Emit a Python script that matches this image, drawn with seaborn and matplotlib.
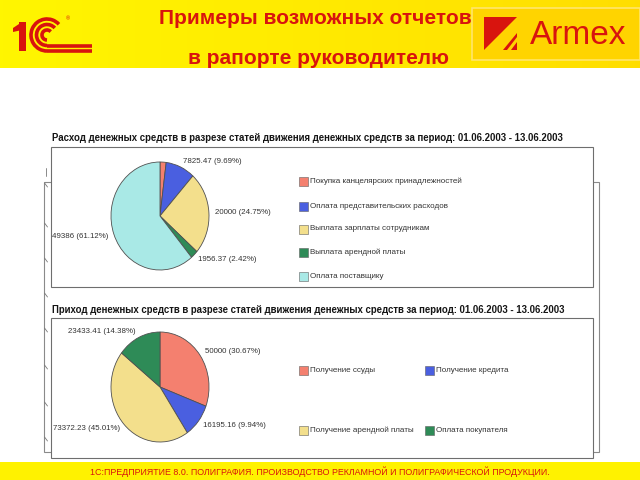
import numpy as np
import matplotlib
matplotlib.use("Agg")
import matplotlib.pyplot as plt
import seaborn as sns
from matplotlib.patches import Rectangle, Polygon, Arc

sns.set_theme(style="white")
plt.rcParams['font.family'] = ['Liberation Sans', 'DejaVu Sans']

# ---------------- data ----------------
header_line1 = "Примеры возможных отчетов"
header_line2 = "в рапорте руководителю"
footer_text = "1С:ПРЕДПРИЯТИЕ 8.0. ПОЛИГРАФИЯ. ПРОИЗВОДСТВО РЕКЛАМНОЙ И ПОЛИГРАФИЧЕСКОЙ ПРОДУКЦИИ."
brand_text = "Armex"

expense_title = ("Расход денежных средств в разрезе статей движения денежных средств "
                 "за период: 01.06.2003 - 13.06.2003")
expense_items = ["Покупка канцелярских принадлежностей",
                 "Оплата представительских расходов",
                 "Выплата зарплаты сотрудникам",
                 "Выплата арендной платы",
                 "Оплата поставщику"]
expense_values = [1629.16, 7825.47, 20000, 1956.37, 49386]
expense_show_label = [False, True, True, True, True]

income_title = ("Приход денежных средств в разрезе статей движения денежных средств "
                "за период: 01.06.2003 - 13.06.2003")
income_items = ["Получение ссуды", "Получение кредита",
                "Получение арендной платы", "Оплата покупателя"]
income_values = [50000, 16195.16, 73372.23, 23433.41]
income_show_label = [True, True, True, True]

expense_colors = ["#F4806F", "#4A5FE0", "#F3DF8C", "#2E8B57", "#A9E9E6"]
income_colors = ["#F4806F", "#4A5FE0", "#F3DF8C", "#2E8B57"]

# ---------------- figure ----------------
W, H = 640, 480
fig = plt.figure(figsize=(6.4, 4.8), dpi=100)
fig.patch.set_facecolor("white")
bg = fig.add_axes([0, 0, 1, 1])
bg.axis("off")

RED = "#D8140E"

# header gradient band
grad = np.linspace(0, 1, 256)
c0 = np.array([1.0, 0.965, 0.0])
c1 = np.array([1.0, 0.87, 0.0])
img = (c0[None, :] * (1 - grad[:, None]) + c1[None, :] * grad[:, None])[None, :, :]
bg.imshow(img, extent=(0, W, 68, 0), aspect="auto", zorder=0)
bg.add_patch(Rectangle((472, 8), 168, 52, fc="#FFD400", ec="#FFE56A", lw=1.2, zorder=1))

bg.text(315, 18, header_line1, ha="center", va="center", fontsize=15,
        fontweight="bold", color=RED, zorder=3)
bg.text(318, 58, header_line2, ha="center", va="center", fontsize=15,
        fontweight="bold", color=RED, zorder=3)

# 1C logo
bg.add_patch(Rectangle((19, 22), 7, 29, fc=RED, ec="none", zorder=3))
bg.add_patch(Polygon([(13, 28), (22, 22), (22, 30), (13, 32)], fc=RED, ec="none", zorder=3))
for r in (16, 10.5, 5):
    bg.add_patch(Arc((47, 35), 2 * r, 2 * r, theta1=90, theta2=318, lw=2.6,
                     color=RED, zorder=3))
bg.plot([47, 92], [51, 51], color=RED, lw=2.6, solid_capstyle="butt", zorder=3)
bg.plot([47, 92], [45.5, 45.5], color=RED, lw=2.6, solid_capstyle="butt", zorder=3)
bg.text(68, 19, "®", fontsize=4, color=RED, ha="center", va="center", zorder=3)

# Armex logo
bg.add_patch(Polygon([(484, 17), (517, 17), (484, 50)], fc=RED, ec="none", zorder=3))
bg.add_patch(Polygon([(503, 50), (517, 33), (517, 37), (507, 50)], fc=RED, ec="none", zorder=3))
bg.add_patch(Polygon([(511, 50), (517, 42), (517, 50)], fc=RED, ec="none", zorder=3))
bg.text(578, 35, brand_text, ha="center", va="center", fontsize=24, color=RED, zorder=3)

# footer band
bg.add_patch(Rectangle((0, 462), W, 18, fc="#FFF200", ec="none", zorder=0))
bg.text(320, 471.5, footer_text, ha="center", va="center", fontsize=6.4,
        color=RED, zorder=3)

# background report frame with partial axis artifacts
bg.add_patch(Rectangle((44, 182), 555, 270, fc="white", ec="#8A8A8A", lw=0.8, zorder=1))
for yy in (183, 223, 258, 293, 328, 365, 402, 437):
    bg.plot([44.5, 47.5], [yy, yy + 4], color="#777777", lw=0.6, zorder=1.5)
bg.plot([46, 46], [168, 176], color="#777777", lw=0.6, zorder=1.5)

# panels
bg.add_patch(Rectangle((51, 147), 542, 140, fc="white", ec="#6E6E6E", lw=0.8, zorder=2))
bg.add_patch(Rectangle((51, 318), 542, 140, fc="white", ec="#6E6E6E", lw=0.8, zorder=2))

bg.text(52, 138, expense_title, ha="left", va="center", fontsize=6.9,
        fontweight="bold", color="#151515", zorder=3)
bg.text(52, 310, income_title, ha="left", va="center", fontsize=6.9,
        fontweight="bold", color="#151515", zorder=3)

bg.set_xlim(0, W)
bg.set_ylim(H, 0)


def fmt_labels(values, show):
    total = sum(values)
    out = []
    for v, s in zip(values, show):
        if not s:
            out.append("")
            continue
        vs = f"{v:.2f}".rstrip("0").rstrip(".")
        out.append(f"{vs} ({v / total * 100:.2f}%)")
    return out


def draw_pie(cx, cy, rx, ry, values, colors, labels):
    ax = fig.add_axes([(cx - rx) / W, 1 - (cy + ry) / H, 2 * rx / W, 2 * ry / H])
    ax.pie(values, colors=colors, startangle=90, counterclock=False,
           labels=labels, labeldistance=1.12,
           wedgeprops=dict(edgecolor="#505050", linewidth=0.6),
           textprops=dict(fontsize=5.7, color="#333333"))
    ax.set_aspect("auto")
    ax.set_xlim(-1, 1)
    ax.set_ylim(-1, 1)
    ax.axis("off")
    return ax


draw_pie(160, 216, 49, 54, expense_values, expense_colors,
         fmt_labels(expense_values, expense_show_label))
draw_pie(160, 387, 49, 55, income_values, income_colors,
         fmt_labels(income_values, income_show_label))


def legend_entry(x, y, color, text):
    bg.add_patch(Rectangle((x, y - 4.5), 9, 9, fc=color, ec="#606060", lw=0.4, zorder=4))
    bg.text(x + 11.5, y, text, ha="left", va="center", fontsize=5.8,
            color="#333333", zorder=4)


exp_rows = [181, 206, 229, 252, 276]
for y, c, t in zip(exp_rows, expense_colors, expense_items):
    legend_entry(299, y, c, t)

inc_pos = [(299, 370), (425, 370), (299, 430), (425, 430)]
for (x, y), c, t in zip(inc_pos, income_colors, income_items):
    legend_entry(x, y, c, t)

fig.savefig("out.png", dpi=100, facecolor="white")
